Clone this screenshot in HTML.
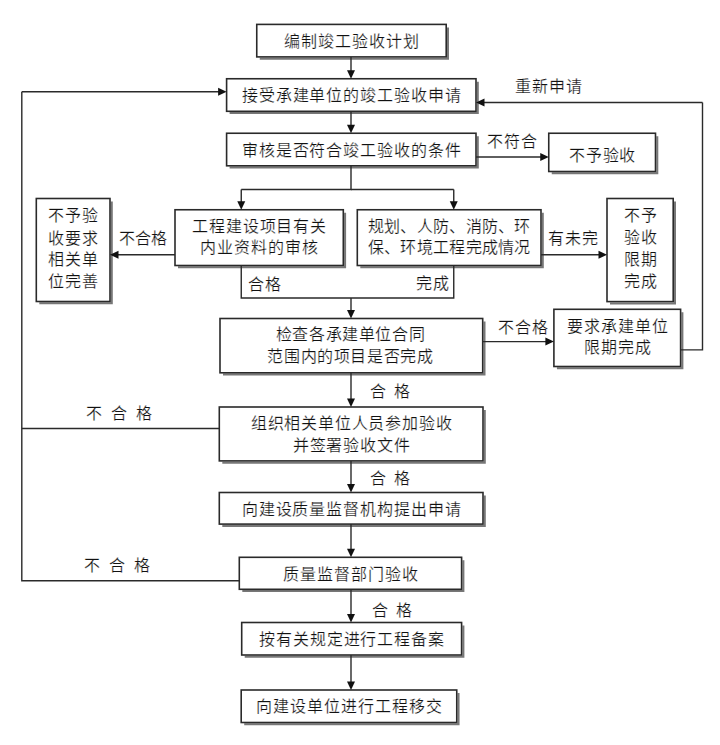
<!DOCTYPE html><html lang="zh-CN"><head><meta charset="utf-8"><style>html,body{margin:0;padding:0;background:#fff;width:720px;height:745px;overflow:hidden}svg{display:block}text{font-family:"Liberation Serif",serif;font-size:16px;fill:#111;stroke:#fff;stroke-width:0.22px}</style></head><body>
<svg width="720" height="745" viewBox="0 0 720 745">
<rect x="0" y="0" width="720" height="745" fill="#fff"/>
<path d="M259.75 58.70 H448.00 V27.40" fill="none" stroke="#777" stroke-width="2"/>
<rect x="256.75" y="24.40" width="189.45" height="32.50" fill="#fff" stroke="#2a2a2a" stroke-width="1.60"/>
<text x="351.93" y="41.00" text-anchor="middle" dominant-baseline="central" letter-spacing="0.90">编制竣工验收计划</text>
<path d="M229.60 113.10 H477.80 V81.75" fill="none" stroke="#777" stroke-width="2"/>
<rect x="226.60" y="78.75" width="249.40" height="32.55" fill="#fff" stroke="#2a2a2a" stroke-width="1.60"/>
<text x="351.75" y="95.00" text-anchor="middle" dominant-baseline="central" letter-spacing="0.90">接受承建单位的竣工验收申请</text>
<path d="M229.60 167.60 H477.80 V136.25" fill="none" stroke="#777" stroke-width="2"/>
<rect x="226.60" y="133.25" width="249.40" height="32.55" fill="#fff" stroke="#2a2a2a" stroke-width="1.60"/>
<text x="351.75" y="150.00" text-anchor="middle" dominant-baseline="central" letter-spacing="0.90">审核是否符合竣工验收的条件</text>
<path d="M551.75 173.30 H657.30 V136.25" fill="none" stroke="#777" stroke-width="2"/>
<rect x="548.75" y="133.25" width="106.75" height="38.25" fill="#fff" stroke="#2a2a2a" stroke-width="1.60"/>
<text x="602.58" y="155.00" text-anchor="middle" dominant-baseline="central" letter-spacing="0.90">不予验收</text>
<path d="M39.30 303.30 H111.80 V201.50" fill="none" stroke="#777" stroke-width="2"/>
<rect x="36.30" y="198.50" width="73.70" height="103.00" fill="#fff" stroke="#2a2a2a" stroke-width="1.60"/>
<text x="73.60" y="215.50" text-anchor="middle" dominant-baseline="central" letter-spacing="0.90">不予验</text>
<text x="73.60" y="238.00" text-anchor="middle" dominant-baseline="central" letter-spacing="0.90">收要求</text>
<text x="73.60" y="259.75" text-anchor="middle" dominant-baseline="central" letter-spacing="0.90">相关单</text>
<text x="73.60" y="281.00" text-anchor="middle" dominant-baseline="central" letter-spacing="0.90">位完善</text>
<path d="M178.00 267.30 H345.10 V212.75" fill="none" stroke="#777" stroke-width="2"/>
<rect x="175.00" y="209.75" width="168.30" height="55.75" fill="#fff" stroke="#2a2a2a" stroke-width="1.60"/>
<text x="259.60" y="226.50" text-anchor="middle" dominant-baseline="central" letter-spacing="0.90">工程建设项目有关</text>
<text x="259.60" y="247.50" text-anchor="middle" dominant-baseline="central" letter-spacing="0.90">内业资料的审核</text>
<path d="M360.30 267.30 H542.80 V212.75" fill="none" stroke="#777" stroke-width="2"/>
<rect x="357.30" y="209.75" width="183.70" height="55.75" fill="#fff" stroke="#2a2a2a" stroke-width="1.60"/>
<text x="449.30" y="226.00" text-anchor="middle" dominant-baseline="central" letter-spacing="0.30">规划、人防、消防、环</text>
<text x="449.30" y="247.25" text-anchor="middle" dominant-baseline="central" letter-spacing="0.30">保、环境工程完成情况</text>
<path d="M610.00 303.40 H675.00 V201.50" fill="none" stroke="#777" stroke-width="2"/>
<rect x="607.00" y="198.50" width="66.20" height="103.10" fill="#fff" stroke="#2a2a2a" stroke-width="1.60"/>
<text x="640.55" y="215.50" text-anchor="middle" dominant-baseline="central" letter-spacing="0.90">不予</text>
<text x="640.55" y="237.50" text-anchor="middle" dominant-baseline="central" letter-spacing="0.90">验收</text>
<text x="640.55" y="259.75" text-anchor="middle" dominant-baseline="central" letter-spacing="0.90">限期</text>
<text x="640.55" y="281.00" text-anchor="middle" dominant-baseline="central" letter-spacing="0.90">完成</text>
<path d="M223.00 374.60 H484.50 V321.50" fill="none" stroke="#777" stroke-width="2"/>
<rect x="220.00" y="318.50" width="262.70" height="54.30" fill="#fff" stroke="#2a2a2a" stroke-width="1.60"/>
<text x="350.45" y="334.50" text-anchor="middle" dominant-baseline="central" letter-spacing="0.60">检查各承建单位合同</text>
<text x="350.45" y="356.50" text-anchor="middle" dominant-baseline="central" letter-spacing="0.60">范围内的项目是否完成</text>
<path d="M556.90 368.30 H682.40 V312.30" fill="none" stroke="#777" stroke-width="2"/>
<rect x="553.90" y="309.30" width="126.70" height="57.20" fill="#fff" stroke="#2a2a2a" stroke-width="1.60"/>
<text x="617.75" y="326.20" text-anchor="middle" dominant-baseline="central" letter-spacing="1.00">要求承建单位</text>
<text x="617.75" y="347.50" text-anchor="middle" dominant-baseline="central" letter-spacing="1.00">限期完成</text>
<path d="M222.30 462.70 H484.80 V410.00" fill="none" stroke="#777" stroke-width="2"/>
<rect x="219.30" y="407.00" width="263.70" height="53.90" fill="#fff" stroke="#2a2a2a" stroke-width="1.60"/>
<text x="351.55" y="423.70" text-anchor="middle" dominant-baseline="central" letter-spacing="0.80">组织相关单位人员参加验收</text>
<text x="351.55" y="445.40" text-anchor="middle" dominant-baseline="central" letter-spacing="0.80">并签署验收文件</text>
<path d="M222.30 525.90 H484.80 V495.50" fill="none" stroke="#777" stroke-width="2"/>
<rect x="219.30" y="492.50" width="263.70" height="31.60" fill="#fff" stroke="#2a2a2a" stroke-width="1.60"/>
<text x="351.60" y="509.00" text-anchor="middle" dominant-baseline="central" letter-spacing="0.90">向建设质量监督机构提出申请</text>
<path d="M242.30 591.10 H463.40 V560.30" fill="none" stroke="#777" stroke-width="2"/>
<rect x="239.30" y="557.30" width="222.30" height="32.00" fill="#fff" stroke="#2a2a2a" stroke-width="1.60"/>
<text x="350.90" y="574.50" text-anchor="middle" dominant-baseline="central" letter-spacing="0.90">质量监督部门验收</text>
<path d="M244.70 656.80 H463.40 V625.50" fill="none" stroke="#777" stroke-width="2"/>
<rect x="241.70" y="622.50" width="219.90" height="32.50" fill="#fff" stroke="#2a2a2a" stroke-width="1.60"/>
<text x="352.07" y="639.20" text-anchor="middle" dominant-baseline="central" letter-spacing="0.85">按有关规定进行工程备案</text>
<path d="M244.20 724.30 H458.55 V693.00" fill="none" stroke="#777" stroke-width="2"/>
<rect x="241.20" y="690.00" width="215.55" height="32.50" fill="#fff" stroke="#2a2a2a" stroke-width="1.60"/>
<text x="349.48" y="706.80" text-anchor="middle" dominant-baseline="central" letter-spacing="1.00">向建设单位进行工程移交</text>
<text x="515.00" y="86.00" dominant-baseline="central" letter-spacing="0.90">重新申请</text>
<text x="487.00" y="141.00" dominant-baseline="central" letter-spacing="0.90">不符合</text>
<text x="118.50" y="238.20" dominant-baseline="central" letter-spacing="0.00">不合格</text>
<text x="548.00" y="238.00" dominant-baseline="central" letter-spacing="0.90">有未完</text>
<text x="248.00" y="284.00" dominant-baseline="central" letter-spacing="0.90">合格</text>
<text x="416.25" y="283.50" dominant-baseline="central" letter-spacing="0.90">完成</text>
<text x="498.00" y="327.25" dominant-baseline="central" letter-spacing="0.90">不合格</text>
<text x="369.50" y="391.00" dominant-baseline="central" letter-spacing="8.00">合格</text>
<text x="86.25" y="413.75" dominant-baseline="central" letter-spacing="9.00">不合格</text>
<text x="369.50" y="478.40" dominant-baseline="central" letter-spacing="8.00">合格</text>
<text x="84.30" y="565.00" dominant-baseline="central" letter-spacing="9.00">不合格</text>
<text x="372.00" y="610.00" dominant-baseline="central" letter-spacing="8.00">合格</text>
<polyline points="21.80,91.75 21.80,580.75 239.30,580.75" fill="none" stroke="#2a2a2a" stroke-width="1.40"/>
<polyline points="21.80,428.50 219.30,428.50" fill="none" stroke="#2a2a2a" stroke-width="1.40"/>
<polyline points="351.00,165.80 351.00,189.50 241.25,189.50" fill="none" stroke="#2a2a2a" stroke-width="1.40"/>
<polyline points="351.00,189.50 453.75,189.50" fill="none" stroke="#2a2a2a" stroke-width="1.40"/>
<polyline points="241.25,265.50 241.25,298.00 453.75,298.00 453.75,265.50" fill="none" stroke="#2a2a2a" stroke-width="1.40"/>
<polyline points="680.60,349.90 702.50,349.90 702.50,102.50" fill="none" stroke="#2a2a2a" stroke-width="1.40"/>
<line x1="351.00" y1="56.90" x2="351.00" y2="71.25" stroke="#2a2a2a" stroke-width="1.40"/>
<polygon points="351.00,78.75 347.00,70.25 355.00,70.25" fill="#111"/>
<line x1="351.00" y1="111.30" x2="351.00" y2="125.75" stroke="#2a2a2a" stroke-width="1.40"/>
<polygon points="351.00,133.25 347.00,124.75 355.00,124.75" fill="#111"/>
<line x1="21.80" y1="91.75" x2="219.10" y2="91.75" stroke="#2a2a2a" stroke-width="1.40"/>
<polygon points="226.60,91.75 218.10,95.75 218.10,87.75" fill="#111"/>
<line x1="702.50" y1="102.50" x2="483.50" y2="102.50" stroke="#2a2a2a" stroke-width="1.40"/>
<polygon points="476.00,102.50 484.50,98.50 484.50,106.50" fill="#111"/>
<line x1="476.00" y1="157.00" x2="541.25" y2="157.00" stroke="#2a2a2a" stroke-width="1.40"/>
<polygon points="548.75,157.00 540.25,161.00 540.25,153.00" fill="#111"/>
<line x1="241.25" y1="189.50" x2="241.25" y2="202.25" stroke="#2a2a2a" stroke-width="1.40"/>
<polygon points="241.25,209.75 237.25,201.25 245.25,201.25" fill="#111"/>
<line x1="453.75" y1="189.50" x2="453.75" y2="202.25" stroke="#2a2a2a" stroke-width="1.40"/>
<polygon points="453.75,209.75 449.75,201.25 457.75,201.25" fill="#111"/>
<line x1="175.00" y1="254.80" x2="117.50" y2="254.80" stroke="#2a2a2a" stroke-width="1.40"/>
<polygon points="110.00,254.80 118.50,250.80 118.50,258.80" fill="#111"/>
<line x1="541.00" y1="254.80" x2="599.50" y2="254.80" stroke="#2a2a2a" stroke-width="1.40"/>
<polygon points="607.00,254.80 598.50,258.80 598.50,250.80" fill="#111"/>
<line x1="351.00" y1="298.00" x2="351.00" y2="311.00" stroke="#2a2a2a" stroke-width="1.40"/>
<polygon points="351.00,318.50 347.00,310.00 355.00,310.00" fill="#111"/>
<line x1="482.70" y1="341.60" x2="546.40" y2="341.60" stroke="#2a2a2a" stroke-width="1.40"/>
<polygon points="553.90,341.60 545.40,345.60 545.40,337.60" fill="#111"/>
<line x1="351.00" y1="372.80" x2="351.00" y2="399.50" stroke="#2a2a2a" stroke-width="1.40"/>
<polygon points="351.00,407.00 347.00,398.50 355.00,398.50" fill="#111"/>
<line x1="351.00" y1="460.90" x2="351.00" y2="485.00" stroke="#2a2a2a" stroke-width="1.40"/>
<polygon points="351.00,492.50 347.00,484.00 355.00,484.00" fill="#111"/>
<line x1="351.00" y1="524.10" x2="351.00" y2="549.80" stroke="#2a2a2a" stroke-width="1.40"/>
<polygon points="351.00,557.30 347.00,548.80 355.00,548.80" fill="#111"/>
<line x1="351.00" y1="589.30" x2="351.00" y2="615.00" stroke="#2a2a2a" stroke-width="1.40"/>
<polygon points="351.00,622.50 347.00,614.00 355.00,614.00" fill="#111"/>
<line x1="351.00" y1="655.00" x2="351.00" y2="682.50" stroke="#2a2a2a" stroke-width="1.40"/>
<polygon points="351.00,690.00 347.00,681.50 355.00,681.50" fill="#111"/>
</svg></body></html>
